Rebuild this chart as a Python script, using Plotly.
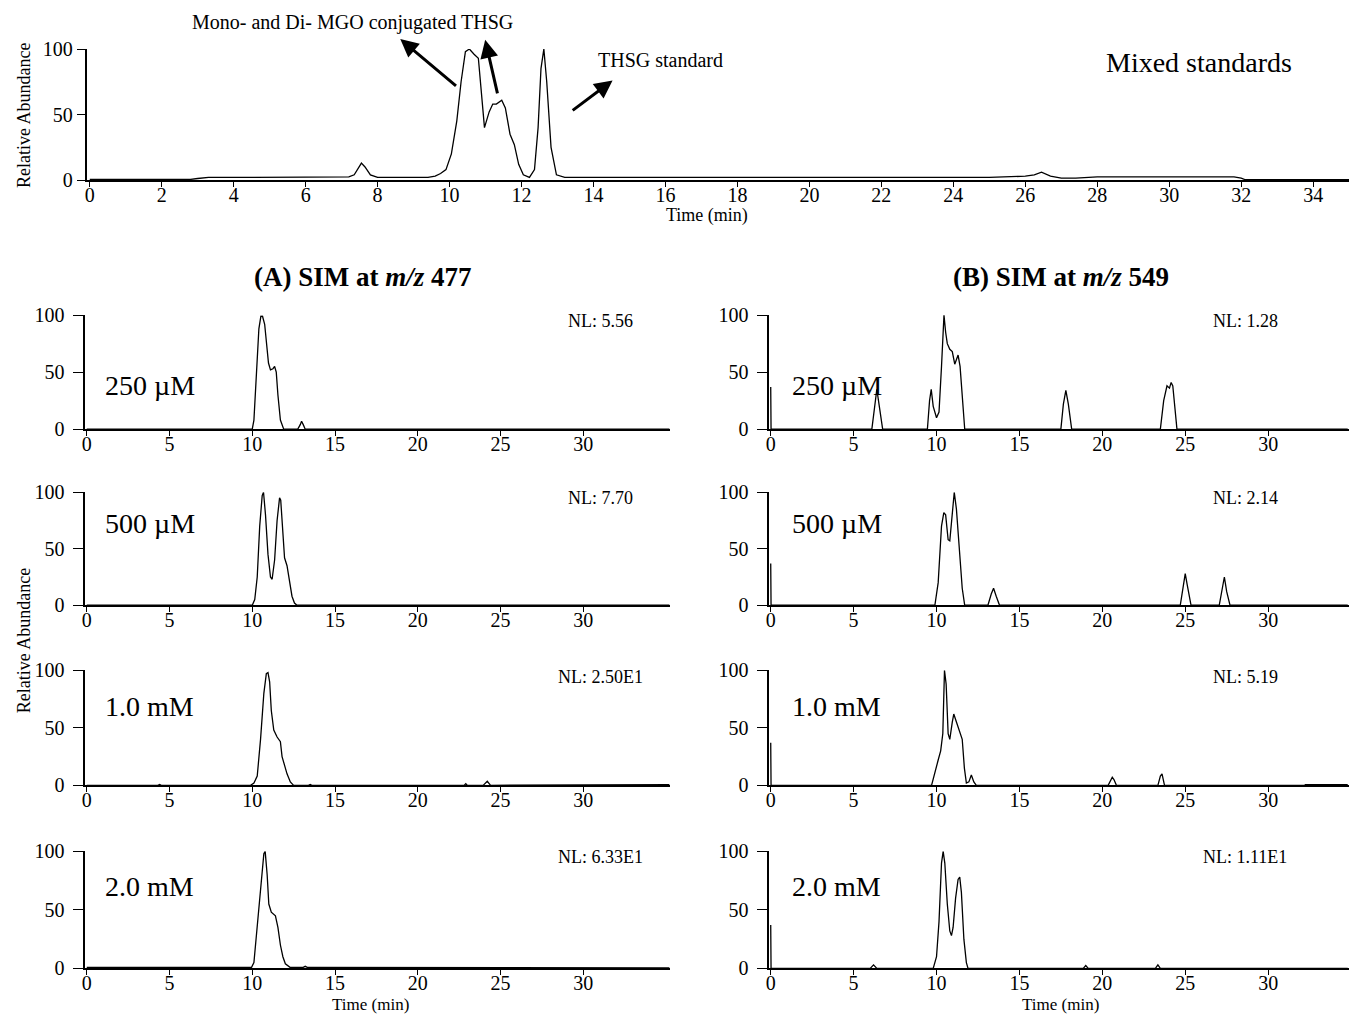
import plotly.graph_objects as go

FONT = "Liberation Serif"
W, H = 1349, 1020

# ---------------- data (time in min, relative abundance in %) ----------------
mix_t = [0, 2.8, 3.0, 3.3, 6.0, 7.2, 7.35, 7.47, 7.55, 7.65, 7.8, 8.0, 9.4, 9.6, 9.75, 9.9,
         10.05, 10.2, 10.32, 10.44, 10.55, 10.68, 10.8, 10.97, 11.1, 11.2, 11.3, 11.45, 11.55,
         11.68, 11.8, 11.92, 12.05, 12.22, 12.36, 12.46, 12.54, 12.62, 12.7, 12.82, 12.97, 13.2,
         25.0, 26.0, 26.25, 26.45, 26.7, 27.0, 27.4, 28.0, 31.8, 32.0, 32.1, 35.0]
mix_y = [0.5, 0.5, 1.2, 2.0, 2.2, 2.5, 4, 10, 13, 10, 4, 2, 2, 3, 5, 8,
         20, 45, 75, 98, 100, 96, 93, 40, 52, 58, 58, 61, 55,
         35, 27, 12, 4, 2, 8, 40, 85, 100, 75, 25, 4, 2,
         2, 3, 4, 6, 3, 1.5, 1.5, 2.5, 2.5, 1.5, 0.4, 0.4]

a1_t = [0, 10.0, 10.1, 10.25, 10.4, 10.52, 10.62, 10.75, 10.88, 10.98, 11.1, 11.25, 11.35,
        11.45, 11.55, 11.7, 11.9, 12.75, 12.9, 12.98, 13.08, 13.2, 35.2]
a1_y = [0, 0, 8, 45, 88, 99, 99, 92, 75, 58, 52, 53, 55, 50, 30, 8, 0, 0, 4, 7, 4, 0, 0]

a2_t = [0, 10.0, 10.15, 10.3, 10.45, 10.6, 10.68, 10.8, 10.95, 11.1, 11.2, 11.35, 11.5,
        11.65, 11.72, 11.85, 11.95, 12.1, 12.25, 12.4, 12.55, 12.7, 35.2]
a2_y = [0, 0, 5, 25, 70, 97, 100, 80, 45, 25, 23, 40, 75, 95, 93, 60, 42, 35, 20, 8, 2, 0, 0]

a3_t = [0, 4.3, 4.4, 4.5, 9.9, 10.1, 10.3, 10.5, 10.7, 10.85, 10.95, 11.05, 11.15, 11.3,
        11.5, 11.7, 11.8, 11.95, 12.1, 12.3, 12.5, 13.4, 13.5, 13.6, 22.8, 22.9, 23.0,
        23.95, 24.2, 24.4, 32.2, 35.2]
a3_y = [0, 0, 0.8, 0, 0, 2, 8, 40, 80, 97, 98, 90, 65, 48,
        42, 38, 25, 18, 10, 3, 0, 0, 0.8, 0, 0, 1.5, 0,
        0, 3.5, 0, 0, 0.6]

a4_t = [0, 9.95, 10.1, 10.3, 10.5, 10.7, 10.78, 10.9, 11.0, 11.15, 11.4, 11.55, 11.7,
        11.85, 12.0, 12.3, 13.05, 13.2, 13.35, 32.2, 35.2]
a4_y = [0.8, 0.8, 5, 35, 70, 98, 100, 80, 55, 48, 45, 35, 20, 10, 4, 0.8, 0.8, 1.8, 0.8, 0.8, 0.4]

b1_t = [0, 0.02, 6.1, 6.25, 6.4, 6.55, 6.75, 9.45, 9.58, 9.68, 9.8, 10.0, 10.15, 10.3,
        10.45, 10.55, 10.65, 10.8, 10.95, 11.1, 11.3, 11.42, 11.55, 11.7, 17.5, 17.65,
        17.8, 17.95, 18.15, 23.5, 23.7, 23.9, 24.05, 24.15, 24.25, 24.35, 24.5, 34.8]
b1_y = [37, 0, 0, 20, 35, 20, 0, 0, 25, 35, 20, 10, 15, 55,
        100, 85, 75, 70, 68, 57, 65, 55, 25, 0, 0, 22,
        34, 22, 0, 0, 25, 38, 36, 41, 38, 22, 0, 0]

b2_t = [0, 0.02, 9.9, 10.1, 10.3, 10.44, 10.55, 10.7, 10.8, 10.95, 11.07, 11.2, 11.4,
        11.55, 11.7, 13.1, 13.3, 13.44, 13.6, 13.8, 24.7, 24.88, 25.0, 25.12, 25.35,
        27.05, 27.25, 27.36, 27.5, 27.7, 34.8]
b2_y = [37, 0, 0, 20, 70, 82, 80, 58, 57, 80, 100, 85, 45, 15, 0, 0, 10, 15, 8, 0,
        0, 18, 28, 18, 0, 0, 15, 25, 12, 0, 0]

b3_t = [0, 0.02, 9.7, 9.9, 10.1, 10.25, 10.38, 10.48, 10.58, 10.7, 10.8, 10.95, 11.04,
        11.2, 11.4, 11.55, 11.68, 11.8, 11.95, 12.1, 12.25, 12.4, 20.35, 20.5, 20.6,
        20.7, 20.85, 23.35, 23.5, 23.6, 23.75, 32.2, 32.25, 34.8]
b3_y = [37, 0, 0, 10, 22, 30, 45, 100, 88, 45, 40, 55, 62, 55, 47, 40, 15, 2, 3, 9, 3,
        0, 0, 5, 7, 5, 0, 0, 8, 10, 0, 0, 0.6, 0.6]

b4_t = [0, 0.02, 6.0, 6.2, 6.4, 9.8, 10.0, 10.15, 10.3, 10.4, 10.5, 10.65, 10.8, 10.9,
        11.0, 11.15, 11.3, 11.4, 11.5, 11.65, 11.8, 11.9, 18.85, 19.0, 19.15, 23.2,
        23.35, 23.5, 34.8]
b4_y = [37, 0, 0, 3, 0, 0, 10, 40, 90, 100, 90, 55, 32, 28, 35, 60, 76, 78, 65, 25, 5,
        0, 0, 2.5, 0, 0, 3, 0, 0]

conc_labels = ["250 µM", "500 µM", "1.0 mM", "2.0 mM"]
nl_a = ["NL: 5.56", "NL: 7.70", "NL: 2.50E1", "NL: 6.33E1"]
nl_b = ["NL: 1.28", "NL: 2.14", "NL: 5.19", "NL: 1.11E1"]
top_ticks = list(range(0, 35, 2))
small_ticks = [0, 5, 10, 15, 20, 25, 30]
y_ticks = [0, 50, 100]


# ---------------- layout helpers (target pixels -> paper fraction) ----------------
def ty(p):
    # small vertical correction measured from previous renders
    return min(max((p - 11) / 0.978, 0.0), H - 5)


def fx(p):
    return min(max(p / W, 0.0), 1.0)


def fy(p):
    return min(max(1 - ty(p) / H, 0.0), 1.0)


fig = go.Figure()

tickfont = dict(family=FONT, size=20, color="black")
x_common = dict(showline=True, linecolor="black", linewidth=2, ticks="outside",
                ticklen=5, tickwidth=1.3, tickcolor="black", showgrid=False,
                zeroline=False, tickfont=tickfont, ticklabelstandoff=-9)
y_top = dict(x_common, ticklen=8, ticklabelstandoff=0)
y_small = dict(x_common, ticklen=10, ticklabelstandoff=5)

layout = {}

# (suffix, px of t=0 (axis), right px, px per min, y px of 100, y px of 0, tick values)
rows_y = [(315, 429), (492, 605), (670, 785), (851, 968)]
panels = [("", 86, 1349, 36.09, 49, 180, top_ticks, y_top)]
for i, (yt, yb) in enumerate(rows_y):
    panels.append((str(i + 2), 83, 668, 16.6, yt, yb, small_ticks, y_small))
for i, (yt, yb) in enumerate(rows_y):
    panels.append((str(i + 6), 769, 1349, 16.63, yt, yb, small_ticks, y_small))

LEFT_PAD = 0.08  # min shown left of t=0
for (sfx, z, x1, s, yt, yb, tv, ystyle) in panels:
    x0 = z - LEFT_PAD * s
    layout["xaxis" + sfx] = dict(x_common, domain=[fx(x0), fx(x1)],
                                 range=[-LEFT_PAD, (x1 - z) / s],
                                 tickvals=tv, anchor="y" + sfx)
    layout["yaxis" + sfx] = dict(ystyle, domain=[fy(yb), fy(yt)], range=[0, 100],
                                 tickvals=y_ticks, anchor="x" + sfx)

series = [("", mix_t, mix_y), ("2", a1_t, a1_y), ("3", a2_t, a2_y), ("4", a3_t, a3_y),
          ("5", a4_t, a4_y), ("6", b1_t, b1_y), ("7", b2_t, b2_y), ("8", b3_t, b3_y),
          ("9", b4_t, b4_y)]
for sfx, t, y in series:
    fig.add_trace(go.Scatter(x=t, y=y, mode="lines", line=dict(color="black", width=1.3),
                             xaxis="x" + sfx, yaxis="y" + sfx, cliponaxis=False,
                             showlegend=False, hoverinfo="skip"))

ann = []


def txt(text, xp, yp, size, **kw):
    d = dict(text=text, x=fx(xp), y=fy(yp), xref="paper", yref="paper", showarrow=False,
             xanchor="center", yanchor="middle",
             font=dict(family=FONT, size=size, color="black"))
    d.update(kw)
    ann.append(d)


txt("Mono- and Di- MGO conjugated THSG", 350, 22, 20)
txt("THSG standard", 658, 60, 20)
txt("Mixed standards", 1199, 62, 28)
txt("Relative Abundance", 20, 115, 18, textangle=-90)
txt("Time (min)", 705, 215, 18)
txt("<b>(A) SIM at <i>m/z</i> 477</b>", 360, 277, 27)
txt("<b>(B) SIM at <i>m/z</i> 549</b>", 1060, 277, 27)
txt("Relative Abundance", 20, 640, 18, textangle=-90)
txt("Time (min)", 368, 1014, 17)
txt("Time (min)", 1060, 1014, 17)

conc_y = [385, 523, 706, 886]
nl_y = [321, 498, 677, 857]
for i in range(4):
    txt(conc_labels[i], 146, conc_y[i], 28)
    txt(conc_labels[i], 835, conc_y[i], 28)
    txt(nl_a[i], 598, nl_y[i], 18)
    txt(nl_b[i], 1245, nl_y[i], 18)

# arrows (head x,y ; tail x,y in top-panel data coordinates)
arrows = [(8.63, 107.6, 10.22, 70.9), (10.99, 107, 11.34, 65), (14.53, 76, 13.38, 52.3)]
for hx, hy, tx, tyy in arrows:
    ann.append(dict(x=hx, y=hy, ax=tx, ay=tyy, xref="x", yref="y", axref="x", ayref="y",
                    text="", showarrow=True, arrowhead=2, arrowsize=1.2, arrowwidth=3,
                    arrowcolor="black"))

fig.update_layout(width=W, height=H, margin=dict(l=0, r=0, t=0, b=0),
                  paper_bgcolor="white", plot_bgcolor="white", annotations=ann,
                  font=dict(family=FONT, color="black"), **layout)

fig.write_html("out.html", config={"displayModeBar": False},
               post_script="document.body.style.margin='0px';")
